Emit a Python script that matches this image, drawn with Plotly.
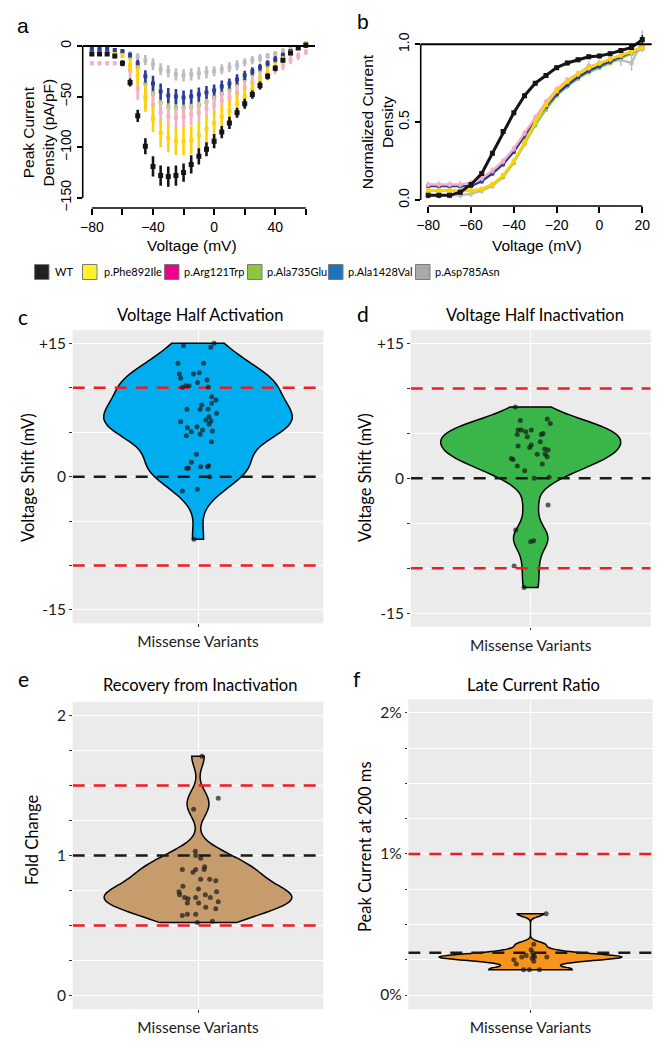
import numpy as np
import plotly.graph_objects as go

W, H = 667, 1050

# ---------------- Panel a: peak current density (pA/pF) ----------------
volt_a = list(range(-80, 61, 5))
series_names = ["WT", "p.Phe892Ile", "p.Arg121Trp", "p.Ala735Glu", "p.Ala1428Val", "p.Asp785Asn"]

a_WT = [-8, -8, -8, -10, -17, -36, -69, -99, -119, -128, -129, -128, -125, -117, -109, -102, -94, -85, -76, -66, -57, -48, -39, -30, -22, -14, -7, -2, 1]
a_WT_err = [1.5, 1.5, 1.5, 2, 3, 4, 6, 8, 10, 10, 10, 10, 9, 9, 8, 7, 7, 6, 6, 5, 5, 4, 4, 3, 3, 2, 2, 2, 2]
a_Phe = [-8, -8, -8, -8, -10, -19, -29, -52, -72, -86, -91, -94, -94, -93, -88, -82, -76, -70, -64, -57, -50, -43, -36, -28, -21, -14, -7, -2, 3]
a_Phe_err = [1, 1, 1, 1, 1.5, 7, 10, 13, 13, 14, 14, 14, 14, 14, 13, 13, 12, 12, 11, 10, 9, 8, 7, 6, 5, 4, 3, 2, 2]
a_Arg = [-17, -17, -17, -17, -17, -24, -42, -50, -58, -66, -70, -71, -70, -68, -66, -62, -58, -54, -51, -46, -41, -36, -31, -27, -23, -19, -14, -10, -6]
a_Arg_err = [2, 2, 2, 2, 2, 8, 11, 12, 12, 11, 11, 11, 10, 10, 10, 10, 9, 9, 8, 8, 7, 7, 6, 6, 5, 5, 4, 4, 3]
a_Ala735 = [-4, -4, -4, -5, -6, -11, -21, -37, -47, -56, -60, -61, -61, -60, -58, -55, -51, -47, -43, -38, -33, -28, -24, -19, -15, -10, -6, -2, 0]
a_Ala735_err = [1, 1, 1, 1, 1.5, 3, 4, 6, 8, 8, 8, 8, 8, 7, 7, 7, 6, 6, 5, 5, 5, 4, 4, 3, 3, 3, 2, 2, 2]
a_Ala1428 = [-3, -3, -3, -4, -5, -9, -17, -30, -37, -45, -49, -50, -51, -50, -48, -46, -44, -40, -37, -33, -29, -25, -21, -17, -13, -9, -5, -2, 0]
a_Ala1428_err = [1, 1, 1, 1, 1.5, 2.5, 3.5, 6, 7.5, 8, 7.5, 7.5, 7, 7, 7, 6.5, 6, 6, 5, 5, 4.5, 4, 3.5, 3, 3, 2.5, 2, 1.5, 1.5]
a_Asp785 = [-3, -3, -3, -4, -6, -8, -11, -14, -18, -23, -25, -28, -29, -28, -27, -26, -25, -23, -21, -19, -16, -14, -12, -10, -8, -5, -3, -1, 0]
a_Asp785_err = [1, 1, 1, 1, 2, 3, 4, 5, 6, 6, 6, 6, 6, 6, 6, 6, 5, 5, 5, 5, 4, 4, 4, 3, 3, 3, 2, 2, 2]

# ---------------- Panel b: normalized current density ----------------
volt_b = list(range(-80, 21, 5))
b_WT = [0.03, 0.03, 0.03, 0.05, 0.10, 0.17, 0.30, 0.44, 0.56, 0.67, 0.75, 0.80, 0.85, 0.88, 0.90, 0.92, 0.925, 0.94, 0.96, 0.98, 1.03]
b_WT_err = [0.015] * 20 + [0.03]
b_Phe = [0.06, 0.06, 0.06, 0.055, 0.06, 0.07, 0.10, 0.16, 0.25, 0.37, 0.50, 0.61, 0.70, 0.76, 0.81, 0.85, 0.88, 0.905, 0.93, 0.955, 0.98]
b_Phe_err = [0.015] * 21
b_Arg = [0.10, 0.10, 0.10, 0.10, 0.11, 0.14, 0.19, 0.25, 0.33, 0.43, 0.53, 0.63, 0.71, 0.77, 0.81, 0.85, 0.88, 0.905, 0.93, 0.95, 0.975]
b_Arg_err = [0.02] * 21
b_Ala735 = [0.06, 0.06, 0.06, 0.06, 0.06, 0.07, 0.10, 0.15, 0.24, 0.36, 0.48, 0.58, 0.67, 0.73, 0.78, 0.82, 0.85, 0.88, 0.91, 0.94, 0.97]
b_Ala735_err = [0.015] * 21
b_Ala1428 = [0.09, 0.09, 0.09, 0.09, 0.09, 0.12, 0.17, 0.23, 0.31, 0.41, 0.51, 0.60, 0.68, 0.74, 0.79, 0.83, 0.86, 0.89, 0.92, 0.95, 0.98]
b_Ala1428_err = [0.015] * 21
b_Asp785 = [0.03, 0.03, 0.03, 0.03, 0.04, 0.06, 0.09, 0.15, 0.25, 0.37, 0.50, 0.62, 0.70, 0.77, 0.81, 0.86, 0.87, 0.89, 0.90, 0.88, 1.02]
b_Asp785_err = [0.02] * 15 + [0.03, 0.03, 0.03, 0.04, 0.05, 0.07]

# ---------------- Panels c-f: violin data ----------------
c_vals = [14.74, 15.0, 14.55, 12.75, 12.75, 11.55, 11.06, 11.55, 11.7, 10.87, 10.6, 10.24, 10.24, 10.05, 10.1,
          9.0, 8.62, 8.25, 8.06, 7.57, 7.57, 7.6, 7.12, 6.75, 6.37, 6.26, 6.19, 5.89, 5.62, 5.51, 5.25, 5.06,
          5.14, 4.61, 4.76, 3.94, 2.51, 1.61, 1.12, 1.12, 0.94, 0.94, 1.24, 0.0, -1.61, -1.42, -7.05]
c_jit = [-0.070, 0.077, 0.061, -0.096, 0.027, -0.089, -0.083, -0.022, 0.006, 0.043, -0.002, -0.059, -0.043,
         -0.075, 0.049, 0.065, 0.086, 0.065, 0.018, 0.010, -0.053, 0.048, 0.089, 0.053, 0.037, 0.062, -0.083,
         0.053, -0.005, -0.051, 0.022, -0.032, 0.069, -0.056, 0.010, 0.065, -0.008, -0.032, 0.013, 0.045,
         -0.054, -0.046, 0.051, 0.056, -0.075, -0.003, -0.019]

d_vals = [7.93, 6.44, 6.59, 6.11, 5.37, 5.37, 4.89, 5.19, 5.37, 4.63, 4.89, 5.0, 4.07, 3.7, 3.44, 3.59, 3.26,
          3.15, 2.67, 2.7, 2.41, 2.22, 2.11, 1.59, 1.37, 0.85, 0.0, 0.11, -2.96, -5.74, -7.04, -6.93, -9.74, -12.15]
d_jit = [-0.077, -0.052, 0.083, 0.098, -0.063, -0.047, -0.067, -0.025, 0.003, -0.017, 0.053, 0.062, 0.048,
         0.003, -0.005, -0.063, 0.070, 0.087, 0.033, 0.072, 0.082, -0.097, -0.088, 0.058, -0.067, -0.030,
         0.018, 0.092, 0.087, -0.075, 0.0, 0.015, -0.083, -0.033]

e_vals = [1.71, 1.41, 1.33, 1.03, 1.00, 0.98, 0.92, 0.90, 0.90, 0.88, 0.90, 0.83, 0.83, 0.82, 0.78, 0.76,
          0.74, 0.72, 0.74, 0.72, 0.70, 0.70, 0.69, 0.70, 0.66, 0.66, 0.67, 0.63, 0.62, 0.57, 0.58, 0.58, 0.53, 0.52]
e_jit = [0.019, 0.097, -0.021, -0.013, -0.011, 0.013, 0.032, -0.075, -0.011, -0.024, 0.029, 0.013, 0.056,
         0.085, -0.072, 0.002, -0.091, -0.088, 0.089, 0.035, 0.059, -0.064, -0.048, -0.011, -0.051, 0.003,
         0.097, 0.037, 0.085, -0.075, -0.051, -0.011, 0.069, -0.003]

f_vals = [0.576, 0.36, 0.32, 0.30, 0.28, 0.28, 0.27, 0.27, 0.27, 0.26, 0.25, 0.24, 0.22, 0.18, 0.18, 0.18]
f_jit = [0.077, 0.016, 0.003, 0.011, -0.021, 0.015, -0.043, 0.020, 0.080, 0.008, -0.082, 0.016, -0.070,
         -0.034, -0.005, 0.044]

# thresholds (reference lines)
c_ref, c_lim = 0, [10, -10]
d_ref, d_lim = 0, [10, -10]
e_ref, e_lim = 1, [1.5, 0.5]
f_ref, f_lim = 0.3, [1.0]

# ---------------- styles ----------------
trace_colors = ["#151515", "#FFD200", "#F7AEC4", "#8DCB5F", "#2D3C98", "#BCBDC0"]
legend_colors = ["#231F20", "#FFF22D", "#EC008C", "#8DC63F", "#1C75BC", "#A7A9AC"]
violin_fill = {"c": "#00AEEF", "d": "#39B54A", "e": "#C69C6D", "f": "#F7941D"}
SANS = "Liberation Sans, Arial, sans-serif"
GG = "Lato, Open Sans, sans-serif"


def px_x(p):
    return p / W


def px_y(p):
    return 1 - p / H


fig = go.Figure()

# ---- panel a traces ----
a_data = {
    "WT": (a_WT, a_WT_err), "p.Phe892Ile": (a_Phe, a_Phe_err), "p.Arg121Trp": (a_Arg, a_Arg_err),
    "p.Ala735Glu": (a_Ala735, a_Ala735_err), "p.Ala1428Val": (a_Ala1428, a_Ala1428_err),
    "p.Asp785Asn": (a_Asp785, a_Asp785_err),
}
color_of = dict(zip(series_names, trace_colors))
order_a = ["p.Ala735Glu", "p.Asp785Asn", "p.Ala1428Val", "p.Arg121Trp", "p.Phe892Ile", "WT"]
for nm in order_a:
    m, e = a_data[nm]
    fig.add_trace(go.Scatter(
        x=volt_a, y=m, mode="markers", xaxis="x", yaxis="y", showlegend=False,
        marker=dict(symbol="square", size=5 if nm == "WT" else 4, color=color_of[nm]),
        error_y=dict(type="data", array=e, thickness=2.6, width=0, color=color_of[nm]),
        hoverinfo="skip"))

# ---- panel b traces ----
b_data = {
    "WT": (b_WT, b_WT_err), "p.Phe892Ile": (b_Phe, b_Phe_err), "p.Arg121Trp": (b_Arg, b_Arg_err),
    "p.Ala735Glu": (b_Ala735, b_Ala735_err), "p.Ala1428Val": (b_Ala1428, b_Ala1428_err),
    "p.Asp785Asn": (b_Asp785, b_Asp785_err),
}
order_b = ["p.Asp785Asn", "p.Ala735Glu", "p.Ala1428Val", "p.Arg121Trp", "p.Phe892Ile", "WT"]
for nm in order_b:
    m, e = b_data[nm]
    fig.add_trace(go.Scatter(
        x=volt_b, y=m, mode="lines+markers", xaxis="x2", yaxis="y2", showlegend=False,
        line=dict(color=color_of[nm], width=3 if nm == "WT" else 2.4),
        marker=dict(symbol="square", size=5 if nm == "WT" else 4, color=color_of[nm]),
        error_y=dict(type="data", array=e, thickness=1.5, width=0, color=color_of[nm]),
        hoverinfo="skip"))


# ---- violins ----
def nrd0(v):
    v = np.asarray(v, dtype=float)
    sd = v.std(ddof=1)
    q75, q25 = np.percentile(v, [75, 25])
    lo = min(sd, (q75 - q25) / 1.34)
    return 0.9 * lo * len(v) ** -0.2


def add_violin(vals, jit, ref, lims, fill, xa, ya):
    fig.add_trace(go.Violin(
        x0=0, y=vals, xaxis=xa, yaxis=ya, fillcolor=fill, opacity=1,
        line=dict(color="black", width=1.5), points=False, spanmode="hard",
        bandwidth=nrd0(vals), width=0.9, scalemode="width", showlegend=False,
        box_visible=False, meanline_visible=False, hoverinfo="skip"))
    for lv in lims:
        fig.add_trace(go.Scatter(x=[-0.6, 0.6], y=[lv, lv], mode="lines", xaxis=xa, yaxis=ya,
                                 line=dict(color="#EE1C25", width=2.5, dash="12px,9px"),
                                 showlegend=False, hoverinfo="skip"))
    fig.add_trace(go.Scatter(x=[-0.6, 0.6], y=[ref, ref], mode="lines", xaxis=xa, yaxis=ya,
                             line=dict(color="#1A1A1A", width=2.5, dash="12px,9px"),
                             showlegend=False, hoverinfo="skip"))
    fig.add_trace(go.Scatter(x=jit, y=vals, mode="markers", xaxis=xa, yaxis=ya,
                             marker=dict(size=5, color="rgba(20,20,20,0.68)"),
                             showlegend=False, hoverinfo="skip"))


add_violin(c_vals, c_jit, c_ref, c_lim, violin_fill["c"], "x3", "y3")
add_violin(d_vals, d_jit, d_ref, d_lim, violin_fill["d"], "x4", "y4")
add_violin(e_vals, e_jit, e_ref, e_lim, violin_fill["e"], "x5", "y5")
add_violin(f_vals, f_jit, f_ref, f_lim, violin_fill["f"], "x6", "y6")

# ---------------- axes ----------------
base_tick = dict(tickfont=dict(family=SANS, size=14, color="black"), ticks="outside",
                 tickcolor="black", tickwidth=1.5, showgrid=False, zeroline=False, showline=False,
                 automargin=False)

layout = dict(
    width=W, height=H, margin=dict(l=0, r=0, t=0, b=0, pad=0, autoexpand=False),
    paper_bgcolor="white", plot_bgcolor="white", showlegend=False,
    xaxis=dict(domain=[px_x(82.7), px_x(315)], range=[-86, 66], anchor="y",
               tickvals=list(range(-80, 61, 20)),
               ticktext=["\u221280", "", "\u221240", "", "0", "", "40", ""], ticklen=6, **base_tick),
    yaxis=dict(domain=[px_y(208), px_y(39.9)], range=[-160, 6], anchor="x",
               tickvals=[0, -50, -100, -150], ticktext=["0", "\u221250", "\u2212100", "\u2212150"],
               tickangle=-90, ticklen=5, **base_tick),
    xaxis2=dict(domain=[px_x(420.7), px_x(651.7)], range=[-83.5, 24.4], anchor="y2",
                tickvals=list(range(-80, 21, 20)),
                ticktext=["\u221280", "\u221260", "\u221240", "\u221220", "0", "20"], ticklen=6, **base_tick),
    yaxis2=dict(domain=[px_y(206), px_y(25.6)], range=[-0.0385, 1.12], anchor="x2",
                tickvals=[0, 0.5, 1.0], ticktext=["0.0", "0.5", "1.0"], tickangle=-90, ticklen=5, **base_tick),
)

gg_x = dict(range=[-0.6, 0.6], tickvals=[0], ticktext=["Missense Variants"], showgrid=True,
            gridcolor="white", gridwidth=1.4, zeroline=False, ticks="outside", ticklen=2.5,
            tickcolor="#333333", ticklabelstandoff=2, automargin=False,
            tickfont=dict(family=GG, size=15.5, color="#1a1a1a"))
gg_y = dict(showgrid=True, gridcolor="white", gridwidth=1.3, zeroline=False, ticks="outside",
            ticklen=2.5, tickcolor="#333333", automargin=False,
            tickfont=dict(family=GG, size=15.5, color="#1a1a1a"))

layout["xaxis3"] = dict(domain=[px_x(72.7), px_x(323.3)], anchor="y3", **gg_x)
layout["yaxis3"] = dict(domain=[px_y(623.3), px_y(330)], anchor="x3", range=[-16.5, 16.5],
                        tickvals=[-15, -10, -5, 0, 5, 10, 15], ticktext=["-15", "", "", "0", "", "", "+15"], **gg_y)
layout["xaxis4"] = dict(domain=[px_x(410.7), px_x(650.7)], anchor="y4", **gg_x)
layout["yaxis4"] = dict(domain=[px_y(626.7), px_y(330)], anchor="x4", range=[-16.5, 16.5],
                        tickvals=[-15, -10, -5, 0, 5, 10, 15], ticktext=["-15", "", "", "0", "", "", "+15"], **gg_y)
e_ticks = [i * 0.25 for i in range(9)]
layout["xaxis5"] = dict(domain=[px_x(72.7), px_x(323.3)], anchor="y5", **gg_x)
layout["yaxis5"] = dict(domain=[px_y(1009.3), px_y(701.7)], anchor="x5", range=[-0.1, 2.1],
                        tickvals=e_ticks, ticktext=["0", "", "", "", "1", "", "", "", "2"], **gg_y)
layout["xaxis6"] = dict(domain=[px_x(408.3), px_x(652.7)], anchor="y6", **gg_x)
layout["yaxis6"] = dict(domain=[px_y(1009.3), px_y(699.3)], anchor="x6", range=[-0.101, 2.095],
                        tickvals=e_ticks, ticktext=["0%", "", "", "", "1%", "", "", "", "2%"], **gg_y)

shapes = []
# gray panel backgrounds
for k in ["3", "4", "5", "6"]:
    shapes.append(dict(type="rect", xref=f"x{k} domain", yref=f"y{k} domain", x0=0, x1=1, y0=0, y1=1,
                       fillcolor="#EBEBEB", line=dict(width=0), layer="below"))
# panel a axis lines
shapes.append(dict(type="line", xref="x domain", yref="y", x0=0, x1=0, y0=-150, y1=0,
                   line=dict(color="black", width=1.6)))
shapes.append(dict(type="line", xref="x", yref="y domain", x0=-80, x1=60, y0=0, y1=0,
                   line=dict(color="black", width=1.6)))
shapes.append(dict(type="line", xref="x domain", yref="y", x0=0, x1=1, y0=0, y1=0,
                   line=dict(color="black", width=2)))
# panel b axis lines
shapes.append(dict(type="line", xref="x2 domain", yref="y2", x0=0, x1=0, y0=0, y1=1,
                   line=dict(color="black", width=1.6)))
shapes.append(dict(type="line", xref="x2", yref="y2 domain", x0=-80, x1=20, y0=0, y1=0,
                   line=dict(color="black", width=1.6)))
shapes.append(dict(type="line", xref="x2 domain", yref="y2", x0=0, x1=1, y0=1, y1=1,
                   line=dict(color="black", width=2)))

# legend swatches
legend_x = [34.5, 82.5, 164.5, 247.5, 328.5, 415.5]
legend_text_x = [53, 101.5, 182, 265, 346, 433]
legend_y = 272
for cx, col in zip(legend_x, legend_colors):
    shapes.append(dict(type="rect", xref="paper", yref="paper",
                       x0=px_x(cx), x1=px_x(cx + 14.5), y0=px_y(legend_y + 7.5), y1=px_y(legend_y - 7.5),
                       fillcolor=col, line=dict(color="#7a7a7a", width=1)))

ann = []


def text(t, x, y, size, family, angle=0, xanchor="center", color="black"):
    ann.append(dict(text=t, x=px_x(x), y=px_y(y), xref="paper", yref="paper", showarrow=False,
                    xanchor=xanchor, yanchor="middle", textangle=angle,
                    font=dict(size=size, family=family, color=color)))


for nm, tx in zip(series_names, legend_text_x):
    text(nm, tx, legend_y, 11, GG, xanchor="left")

# panel letters
text("a", 22.7, 25, 21, SANS)
text("b", 363, 22, 21, SANS)
text("c", 22.7, 316, 21, GG)
text("d", 363, 313, 21, GG)
text("e", 23, 678, 21, GG)
text("f", 357, 678, 21, GG)

# panel a/b axis titles
text("Peak Current<br>Density (pA/pF)", 37.5, 133, 15.5, SANS, angle=-90)
text("Voltage (mV)", 191.7, 245, 15.5, SANS)
text("Normalized Current<br>Density", 378.3, 122, 15.5, SANS, angle=-90)
text("Voltage (mV)", 536.7, 245, 15.5, SANS)

# ggplot panel titles
text("Voltage Half Activation", 200, 315, 16.5, GG)
text("Voltage Half Inactivation", 535, 315, 16.5, GG)
text("Recovery from Inactivation", 200, 685, 16.5, GG)
text("Late Current Ratio", 533, 685, 16.5, GG)

text("Voltage Shift (mV)", 28, 478, 16.5, GG, angle=-90)
text("Voltage Shift (mV)", 365, 478, 16.5, GG, angle=-90)
text("Fold Change", 32, 840, 16.5, GG, angle=-90)
text("Peak Current at 200 ms", 365, 847, 16.5, GG, angle=-90)

layout["shapes"] = shapes
layout["annotations"] = ann
fig.update_layout(**layout)
fig.write_html("out.html", config={"displayModeBar": False},
               post_script="document.body.style.margin='0px';document.body.style.padding='0px';")
